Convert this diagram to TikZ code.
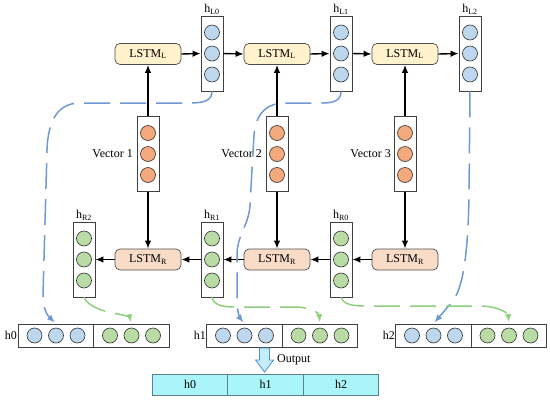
\documentclass[tikz,border=0pt]{standalone}
\usepackage{fontspec}
\setmainfont{Liberation Serif}
\usetikzlibrary{arrows.meta,calc}
\definecolor{lstmL}{HTML}{FFF2CC}
\definecolor{lstmR}{HTML}{F9DCC8}
\definecolor{cblue}{HTML}{BDD7EE}
\definecolor{corange}{HTML}{F4A97C}
\definecolor{cgreen}{HTML}{B8DCA4}
\definecolor{dblue}{HTML}{7099D4}
\definecolor{dgreen}{HTML}{8FD07E}
\definecolor{barfill}{HTML}{AAF5FA}
\definecolor{barline}{HTML}{5F7F8F}
\definecolor{arrfill}{HTML}{C4EEFA}
\definecolor{arrline}{HTML}{4A90D9}
\newcommand\mycol[4]{%
  \node[colbox] (#1) at (#2,#3) {};
  \node[dot,fill=#4] (#1a) at (#2,#3-21) {};
  \node[dot,fill=#4] (#1b) at (#2,#3) {};
  \node[dot,fill=#4] (#1c) at (#2,#3+21) {};
}
\newcommand\myhalf[4]{%
  \node[halfbox] (#1) at (#2,#3) {};
  \node[dot,fill=#4] (#1x) at (#2-21.5,#3) {};
  \node[dot,fill=#4] (#1y) at (#2,#3) {};
  \node[dot,fill=#4] (#1z) at (#2+21.5,#3) {};
}
\begin{document}
\begin{tikzpicture}[x=1pt,y=-1pt,
  every node/.style={font=\fontsize{12}{14}\selectfont},
  lstmbox/.style={draw=black!70, line width=0.7pt, rounded corners=5pt, minimum width=66pt, minimum height=21pt, inner sep=0pt, font=\fontsize{12}{14}\selectfont},
  colbox/.style={draw=black!75, line width=0.7pt, fill=white, minimum width=22pt, minimum height=75pt, inner sep=0pt},
  halfbox/.style={draw=black!75, line width=0.7pt, fill=white, minimum width=75.5pt, minimum height=23pt, inner sep=0pt},
  dot/.style={circle, draw=black!80, line width=0.6pt, minimum size=15pt, inner sep=0pt},
  barcell/.style={draw=barline, line width=0.7pt, fill=barfill, minimum width=75.5pt, minimum height=21pt, inner sep=0pt},
  conn/.style={line width=1.4pt, -{Latex[length=8pt,width=6.5pt]}},
  bdash/.style={draw=dblue, line width=1.5pt, dash pattern=on 26pt off 10pt, -{Latex[length=8pt,width=6.5pt]}},
  gdash/.style={draw=dgreen, line width=1.5pt, dash pattern=on 26pt off 10pt, -{Latex[length=8pt,width=6.5pt]}},
  lbl/.style={inner sep=0pt}
]
\useasboundingbox (0,0) rectangle (550,400);

% top LSTM_L
\node[lstmbox, fill=lstmL] (LL1) at (148,54) {LSTM\textsubscript{L}};
\node[lstmbox, fill=lstmL] (LL2) at (277,54) {LSTM\textsubscript{L}};
\node[lstmbox, fill=lstmL] (LL3) at (405,54) {LSTM\textsubscript{L}};
% bottom LSTM_R
\node[lstmbox, fill=lstmR] (LR1) at (148,259.5) {LSTM\textsubscript{R}};
\node[lstmbox, fill=lstmR] (LR2) at (277,259.5) {LSTM\textsubscript{R}};
\node[lstmbox, fill=lstmR] (LR3) at (405,259.5) {LSTM\textsubscript{R}};

% hidden columns
\mycol{hL0}{212}{53.5}{cblue}
\mycol{hL1}{341}{53.5}{cblue}
\mycol{hL2}{470}{53.5}{cblue}
\mycol{hR2}{84}{259.5}{cgreen}
\mycol{hR1}{212}{259.5}{cgreen}
\mycol{hR0}{341}{259.5}{cgreen}
% vectors
\mycol{V1}{148}{154}{corange}
\mycol{V2}{277}{154}{corange}
\mycol{V3}{405}{154}{corange}

% labels
\node[lbl] (tL0) at (212,9) {h\textsubscript{L0}};
\node[lbl] (tL1) at (341,9) {h\textsubscript{L1}};
\node[lbl] (tL2) at (470,9) {h\textsubscript{L2}};
\node[lbl] (tR2) at (84,215) {h\textsubscript{R2}};
\node[lbl] (tR1) at (212,215) {h\textsubscript{R1}};
\node[lbl] (tR0) at (341,215) {h\textsubscript{R0}};
\node[lbl, anchor=east] (tV1) at (133,154) {Vector 1};
\node[lbl, anchor=east] (tV2) at (262,154) {Vector 2};
\node[lbl, anchor=east] (tV3) at (391,154) {Vector 3};

% output rows
\myhalf{h0a}{56}{335.5}{cblue}
\myhalf{h0b}{131.5}{335.5}{cgreen}
\myhalf{h1a}{244.5}{335.5}{cblue}
\myhalf{h1b}{320}{335.5}{cgreen}
\myhalf{h2a}{433.5}{335.5}{cblue}
\myhalf{h2b}{509}{335.5}{cgreen}
\node[lbl, anchor=east] (th0) at (17,335) {h0};
\node[lbl, anchor=east] (th1) at (206,335) {h1};
\node[lbl, anchor=east] (th2) at (395,335) {h2};

% output bar
\node[barcell] (b0) at (190,384.5) {h0};
\node[barcell] (b1) at (265.5,384.5) {h1};
\node[barcell] (b2) at (341,384.5) {h2};
\draw[fill=arrfill, draw=arrline, line width=0.8pt]
  (259.5,348) -- (269.5,348) -- (269.5,360) -- (273.5,360) -- (264.5,372) -- (255.5,360) -- (259.5,360) -- cycle;
\node[lbl, anchor=west] (tout) at (277,360) {Output};

% black connectors
\draw[conn] (V1.north) -- (LL1.south);
\draw[conn] (V2.north) -- (LL2.south);
\draw[conn] (V3.north) -- (LL3.south);
\draw[conn] (V1.south) -- (LR1.north);
\draw[conn] (V2.south) -- (LR2.north);
\draw[conn] (V3.south) -- (LR3.north);
\draw[conn] (LL1.east) -- (hL0.west);
\draw[conn] (hL0.east) -- (LL2.west);
\draw[conn] (LL2.east) -- (hL1.west);
\draw[conn] (hL1.east) -- (LL3.west);
\draw[conn] (LL3.east) -- (hL2.west);
\draw[conn] (LR3.west) -- (hR0.east);
\draw[conn] (hR0.west) -- (LR2.east);
\draw[conn] (LR2.west) -- (hR1.east);
\draw[conn] (hR1.west) -- (LR1.east);
\draw[conn] (LR1.west) -- (hR2.east);

% blue dashed
\draw[bdash, shorten >=1.5pt] (hL0.south) .. controls (212,101) and (203,103) .. (190,103) -- (80,103)
  .. controls (58,103) and (48,120) .. (47,150) -- (43,295) .. controls (43,310) and (48,316) .. (h0a.north);
\draw[bdash, shorten >=1.5pt] (hL1.south) .. controls (341,101) and (333,103) .. (322,103) -- (285,103)
  .. controls (268,103) and (256,112) .. (254,135) -- (250,205) .. controls (249,225) and (237,235) .. (237,255)
  -- (237,300) .. controls (237,312) and (240,318) .. (h1a.north);
\draw[bdash, shorten >=1.5pt] (hL2.south) -- (469,195) .. controls (468,260) and (462,290) .. (452,302) -- (h2a.north);

% green dashed
\draw[gdash, shorten >=1.5pt] (hR2.south) .. controls (88,307) and (105,312) .. (118,314) .. controls (125,315) and (130,318) .. (h0b.north);
\draw[gdash, shorten >=1.5pt] (hR1.south) .. controls (214,305) and (222,307) .. (235,307) -- (295,307) .. controls (310,307) and (319,313) .. (h1b.north);
\draw[gdash, shorten >=1.5pt] (hR0.south) .. controls (343,304) and (352,306) .. (365,306) -- (480,306) .. controls (497,306) and (508,313) .. (h2b.north);
\end{tikzpicture}
\end{document}
